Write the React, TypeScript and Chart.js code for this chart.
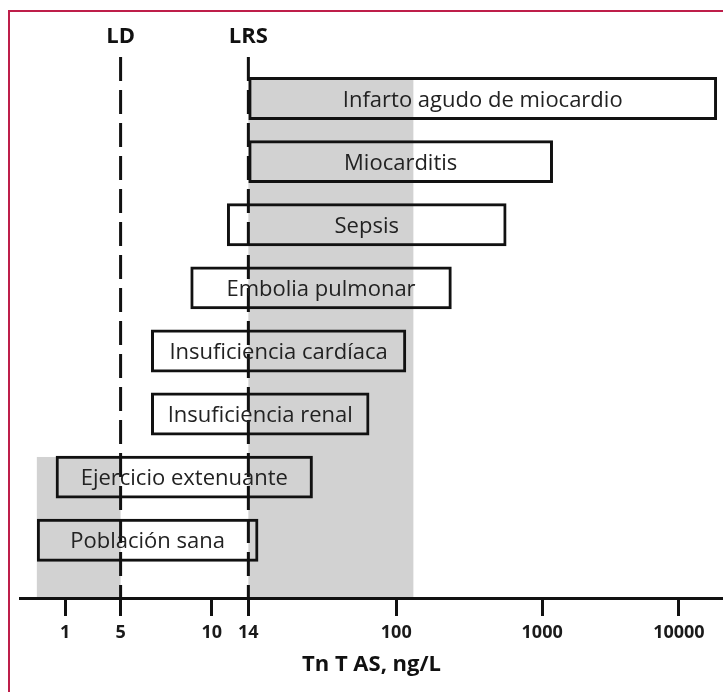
import React, { useEffect, useRef } from 'react';
import { Chart, registerables } from 'chart.js';

Chart.register(...registerables);

// ---- data ----
const categories = [
  'Infarto agudo de miocardio',
  'Miocarditis',
  'Sepsis',
  'Embolia pulmonar',
  'Insuficiencia cardíaca',
  'Insuficiencia renal',
  'Ejercicio extenuante',
  'Población sana',
];
const rangeLow = [14, 14, 11.5, 8.5, 6.3, 6.3, 0.76, 0.44];
const rangeHigh = [19000, 1200, 570, 240, 117, 70, 33, 16];

const tickValues = [1, 5, 10, 14, 100, 1000, 10000];
const tickLabels = ['1', '5', '10', '14', '100', '1000', '10000'];
// schematic (non-uniform) log axis: relative spacing of the ticks along the axis
const tickSpacing = [0, 55.4, 146.4, 183, 330.7, 476.4, 613];
const axisMin = 0.27;
const axisMax = 21000;

const refLabels = ['LD', 'LRS'];
const refValues = [5, 14];

// shaded zones (ng/L range, starting row)
const shadeLow = [14, 0.44];
const shadeHigh = [131, 5];
const shadeFromRow = [-0.34, 5.68];

const axisTitle = 'Tn T AS, ng/L';

// ---- schematic log transform ----
const logTicks = tickValues.map((v) => Math.log10(v));
function toUnit(v: number): number {
  const lv = Math.log10(v);
  const n = logTicks.length;
  let i = 0;
  if (lv <= logTicks[0]) i = 0;
  else if (lv >= logTicks[n - 1]) i = n - 2;
  else {
    while (lv > logTicks[i + 1]) i++;
  }
  const f = (lv - logTicks[i]) / (logTicks[i + 1] - logTicks[i]);
  return tickSpacing[i] + f * (tickSpacing[i + 1] - tickSpacing[i]);
}

const FONT = '"Open Sans", "Noto Sans", sans-serif';
const INK = '#111111';

const decorPlugin = {
  id: 'decor',
  beforeDraw(chart: any) {
    const { ctx, width, height, chartArea, scales } = chart;
    const x = scales.x;
    const y = scales.y;
    ctx.save();
    ctx.fillStyle = '#ffffff';
    ctx.fillRect(0, 0, width, height);
    // frame
    ctx.strokeStyle = '#be1e4a';
    ctx.lineWidth = 2;
    ctx.beginPath();
    ctx.moveTo(9, height);
    ctx.lineTo(9, 11);
    ctx.lineTo(width, 11);
    ctx.stroke();
    // shaded zones
    ctx.fillStyle = '#d2d2d2';
    shadeLow.forEach((lo, i) => {
      const x0 = x.getPixelForValue(toUnit(lo));
      const x1 = x.getPixelForValue(toUnit(shadeHigh[i]));
      const y0 = y.getPixelForValue(shadeFromRow[i]);
      ctx.fillRect(x0, y0, x1 - x0, chartArea.bottom - y0);
    });
    // reference dashed lines + labels
    refValues.forEach((v, i) => {
      const px = x.getPixelForValue(toUnit(v));
      ctx.strokeStyle = INK;
      ctx.lineWidth = 3;
      ctx.setLineDash([24, 9]);
      ctx.beginPath();
      ctx.moveTo(px, chartArea.top - 10);
      ctx.lineTo(px, chartArea.bottom);
      ctx.stroke();
      ctx.setLineDash([]);
      ctx.fillStyle = INK;
      ctx.font = `bold 22px ${FONT}`;
      ctx.textAlign = 'center';
      ctx.textBaseline = 'alphabetic';
      ctx.fillText(refLabels[i], px, chartArea.top - 24);
    });
    ctx.restore();
  },
  afterDatasetsDraw(chart: any) {
    const { ctx } = chart;
    const meta = chart.getDatasetMeta(0);
    ctx.save();
    ctx.fillStyle = '#222222';
    ctx.font = `22px ${FONT}`;
    ctx.textAlign = 'center';
    ctx.textBaseline = 'alphabetic';
    meta.data.forEach((el: any, i: number) => {
      const p = el.getProps(['x', 'y', 'base'], true);
      ctx.fillText(categories[i], (p.x + p.base) / 2, p.y + 8);
    });
    ctx.restore();
  },
};

export default function App() {
  const ref = useRef<HTMLCanvasElement>(null);
  useEffect(() => {
    if (!ref.current) return;
    const chart = new Chart(ref.current, {
      type: 'bar',
      data: {
        labels: categories,
        datasets: [
          {
            data: categories.map((_c, i) => ({
              y: i,
              x: [toUnit(rangeLow[i]), toUnit(rangeHigh[i])],
            })) as any,
            backgroundColor: 'rgba(255,255,255,0)',
            borderColor: INK,
            borderWidth: 3,
            borderSkipped: false,
            barPercentage: 0.85,
            categoryPercentage: 0.8,
          },
        ],
      },
      options: {
        indexAxis: 'y',
        responsive: false,
        animation: false,
        devicePixelRatio: 1,
        layout: { padding: { left: 20, right: 0, top: 67, bottom: 0 } },
        plugins: {
          legend: { display: false },
          tooltip: { enabled: false },
        },
        scales: {
          y: {
            type: 'linear',
            display: false,
            reverse: true,
            offset: false,
            min: -0.5,
            max: 7.915,
            afterBuildTicks: (s: any) => {
              s.ticks = categories.map((_c, i) => ({ value: i }));
            },
          },
          x: {
            type: 'linear',
            beginAtZero: false,
            min: toUnit(axisMin),
            max: toUnit(axisMax),
            afterBuildTicks: (s: any) => {
              s.ticks = tickValues.map((v) => ({ value: toUnit(v) }));
            },
            afterFit: (s: any) => {
              s.height = 94;
            },
            ticks: {
              callback: (_v: any, i: number) => tickLabels[i],
              autoSkip: false,
              maxRotation: 0,
              padding: 6,
              color: '#1a1a1a',
              font: { family: FONT, size: 18, weight: 'bold' },
            },
            grid: {
              display: true,
              drawOnChartArea: false,
              drawTicks: true,
              tickLength: 18,
              tickWidth: 3,
              tickColor: INK,
            },
            border: { display: true, color: INK, width: 3 },
            title: {
              display: true,
              text: axisTitle,
              color: INK,
              font: { family: FONT, size: 22, weight: 'bold' },
              padding: { top: 4, bottom: 14 },
            },
          },
        },
      },
      plugins: [decorPlugin],
    });
    return () => chart.destroy();
  }, []);
  return (
    <div style={{ position: 'fixed', left: 0, top: 0, width: 723, height: 692, overflow: 'hidden' }}>
      <canvas ref={ref} width={723} height={692} style={{ display: 'block', width: 723, height: 692 }} />
    </div>
  );
}
